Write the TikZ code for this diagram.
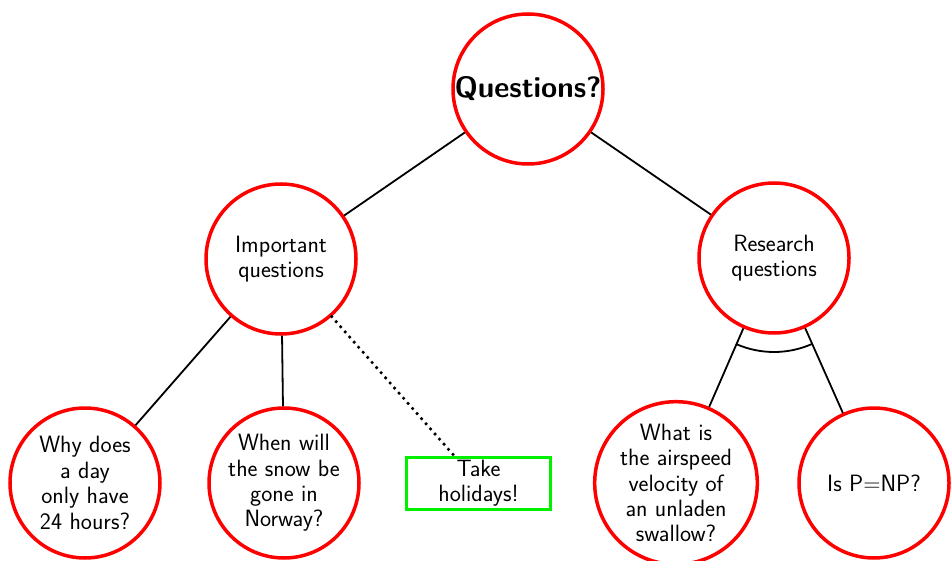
\documentclass[tikz,border=0pt]{standalone}
\usetikzlibrary{calc}
\definecolor{qred}{RGB}{255,0,0}
\definecolor{qgreen}{RGB}{0,240,0}
\begin{document}
\begin{tikzpicture}[x=1pt,y=1pt,
  qnode/.style={circle, draw=qred, line width=3.5pt, minimum size=150pt, inner sep=0pt, align=center, font=\sffamily\fontsize{23.6}{25.4}\selectfont},
  boxnode/.style={rectangle, draw=qgreen, line width=3.5pt, minimum width=144pt, minimum height=52pt, inner sep=0pt, align=center, font=\sffamily\fontsize{23.6}{25.4}\selectfont},
  edge/.style={line width=1.8pt},
  dotedge/.style={line width=3.6pt, line cap=round, dash pattern=on 0pt off 6.8pt}]
\useasboundingbox (0,0) rectangle (952,560);
\node[qnode, font=\sffamily\bfseries\fontsize{29.4}{36}\selectfont] (root) at (528,471) {Questions?};
\node[qnode] (imp) at (281,301) {Important\\questions};
\node[qnode] (res) at (774,302) {Research\\questions};
\node[qnode] (why) at (85,77) {Why does\\a day\\only have\\24 hours?};
\node[qnode] (snow) at (284,77) {When will\\the snow be\\gone in\\Norway?};
\node[boxnode] (hol) at (478.5,76.5) {Take\\holidays!};
\node[qnode] (swal) at (676,77) {What is\\the airspeed\\velocity of\\an unladen\\swallow?};
\node[qnode] (pnp) at (874,77) {Is P=NP?};
\draw[edge] (root) -- (imp);
\draw[edge] (root) -- (res);
\draw[edge] (imp) -- (why);
\draw[edge] (imp) -- (snow);
\draw[dotedge] (imp) -- (hol);
\draw[edge] (res) -- (swal);
\draw[edge] (res) -- (pnp);
\draw[edge] let \p1=($(swal)-(res)$), \p2=($(pnp)-(res)$),
  \n1={atan2(\y1,\x1)}, \n2={atan2(\y2,\x2)} in
  ($(res)+(\n1:94)$) arc[start angle=\n1, end angle=\n2, radius=94];
\end{tikzpicture}
\end{document}
